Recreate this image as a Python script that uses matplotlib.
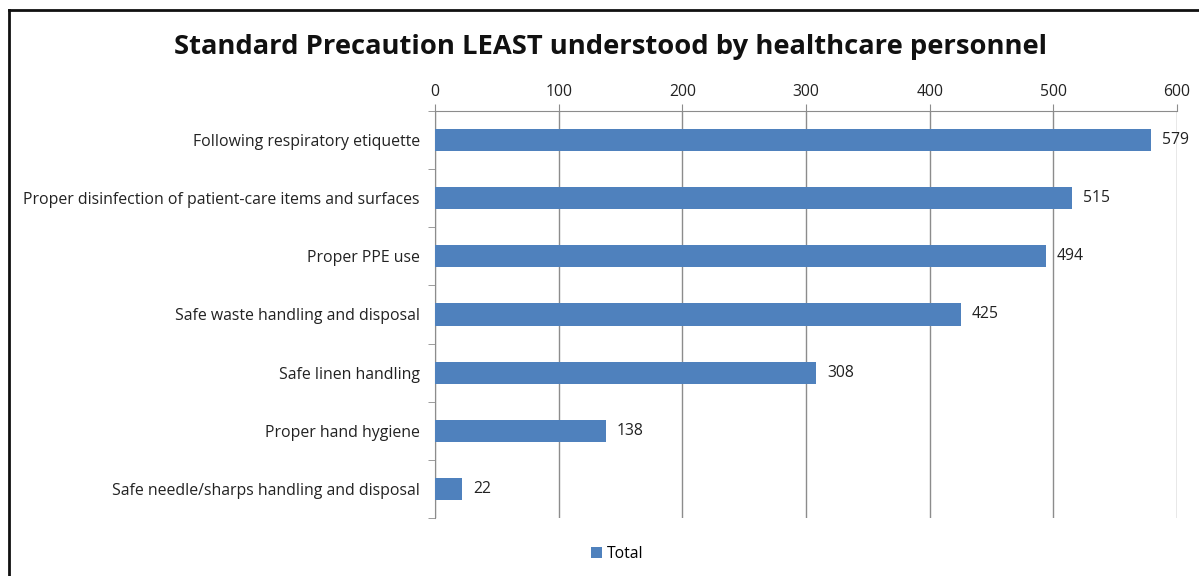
import matplotlib.pyplot as plt
from matplotlib.lines import Line2D
import numpy as np

plt.rcParams['font.family'] = ['Open Sans', 'DejaVu Sans']

categories = ['Following respiratory etiquette',
              'Proper disinfection of patient-care items and surfaces',
              'Proper PPE use',
              'Safe waste handling and disposal',
              'Safe linen handling',
              'Proper hand hygiene',
              'Safe needle/sharps handling and disposal']
totals = [579, 515, 494, 425, 308, 138, 22]
xticks = [0, 100, 200, 300, 400, 500, 600]

bar_color = '#4F81BD'
grid_color = '#8C8C8C'

fig = plt.figure(figsize=(11.99, 5.76), dpi=100)
ax = fig.add_axes([0.3628, 0.1007, 0.6189, 0.7066])

y = np.arange(len(categories))
bars = ax.barh(y, totals, height=0.38, color=bar_color, label='Total', zorder=3)
for yi, v in zip(y, totals):
    ax.text(v + 9, yi, str(v), va='center', ha='left', fontsize=11.3, color='#222222')

ax.set_ylim(len(categories) - 0.5, -0.5)
ax.set_xlim(0, 600)
ax.set_yticks(y)
ax.set_yticklabels(categories, fontsize=11.4, color='#222222')
ax.set_yticks(np.arange(-0.5, len(categories)), minor=True)
ax.tick_params(axis='y', which='major', length=0, pad=11)
ax.tick_params(axis='y', which='minor', length=5, color=grid_color, direction='out')

ax.xaxis.tick_top()
ax.set_xticks(xticks)
ax.tick_params(axis='x', length=5, color=grid_color, direction='out', labelsize=11.3,
               labelcolor='#222222', pad=3)
ax.grid(axis='x', color=grid_color, linewidth=1, zorder=0)

for s in ['right', 'bottom']:
    ax.spines[s].set_visible(False)
ax.spines['top'].set_color(grid_color)
ax.spines['left'].set_color(grid_color)

fig.suptitle('Standard Precaution LEAST understood by healthcare personnel',
             x=0.509, y=0.918, va='center', fontsize=19.7, fontweight='bold',
             color='#111111')

fig.legend(handles=[bars], labels=['Total'], loc='center', bbox_to_anchor=(0.515, 0.038),
           frameon=False, fontsize=11.3, handlelength=0.7, handleheight=0.7,
           handletextpad=0.3)

# outer frame (top and left edges visible in the crop)
fig.add_artist(Line2D([0.0075, 1.0], [0.9835, 0.9835], transform=fig.transFigure,
                      color='#111111', linewidth=2))
fig.add_artist(Line2D([0.0075, 0.0075], [0.0, 0.9835], transform=fig.transFigure,
                      color='#111111', linewidth=2))

fig.savefig('out.png', dpi=100)
